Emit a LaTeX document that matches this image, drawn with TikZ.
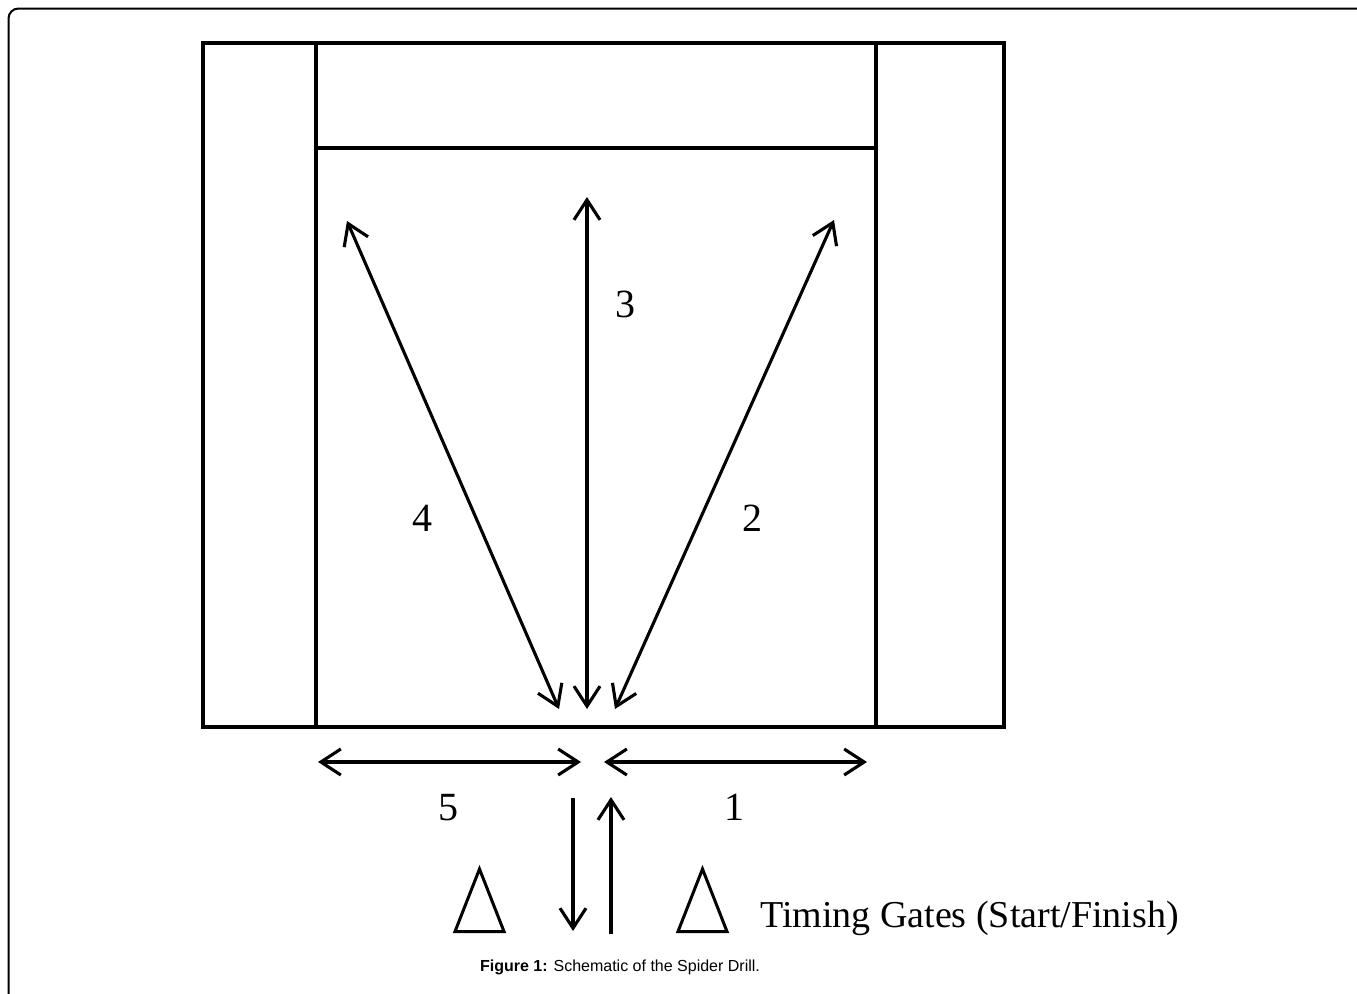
\documentclass[tikz,border=0pt]{standalone}
\usepackage{fontspec}
\setmainfont{Liberation Serif}
\newfontfamily\arialfont{Liberation Sans}
\usetikzlibrary{arrows.meta}
\begin{document}
\begin{tikzpicture}[x=1pt,y=-1pt,
  boxline/.style={line width=3.4pt, line cap=rect},
  dblarrow/.style={line width=3.1pt, {Straight Barb[length=20pt,width=26pt]}-{Straight Barb[length=20pt,width=26pt]}},
  onearrow/.style={line width=3.1pt, -{Straight Barb[length=20pt,width=26pt]}},
  gate/.style={line width=3pt, line join=miter},
  numlabel/.style={inner sep=0pt, font=\fontsize{40}{42}\selectfont},
  frameline/.style={line width=2pt, rounded corners=10pt}]
\useasboundingbox (0,0) rectangle (1357,993);
% page frame
\draw[frameline] (8.5,1040) -- (8.5,8.5) -- (1400,8.5);
% field
\coordinate (TL) at (203,43);
\coordinate (BR) at (1004,727);
\draw[boxline] (TL) rectangle (BR);
\coordinate (LT) at (316,43);
\coordinate (LB) at (316,727);
\coordinate (RT) at (876,43);
\coordinate (RB) at (876,727);
\coordinate (HL) at (316,148);
\coordinate (HR) at (876,148);
\draw[boxline] (LT) -- (LB);
\draw[boxline] (RT) -- (RB);
\draw[boxline] (HL) -- (HR);
% arrow end points
\coordinate (a3t) at (587,197);
\coordinate (a3b) at (587,709);
\coordinate (a4t) at (347,221);
\coordinate (a4b) at (559,709);
\coordinate (a2t) at (834,220);
\coordinate (a2b) at (615,709);
\coordinate (a5l) at (318,762);
\coordinate (a5r) at (581,762);
\coordinate (a1l) at (604,762);
\coordinate (a1r) at (867,762);
\coordinate (dnt) at (573,798);
\coordinate (dnb) at (573,931);
\coordinate (upb) at (611,934);
\coordinate (upt) at (611,797);
\draw[dblarrow] (a3t) -- (a3b);
\draw[dblarrow] (a4t) -- (a4b);
\draw[dblarrow] (a2t) -- (a2b);
\draw[dblarrow] (a5l) -- (a5r);
\draw[dblarrow] (a1l) -- (a1r);
\draw[onearrow] (dnt) -- (dnb);
\draw[onearrow] (upb) -- (upt);
% labels
\node[numlabel] (n3) at (625,304) {3};
\node[numlabel] (n4) at (422,518) {4};
\node[numlabel] (n2) at (752,518) {2};
\node[numlabel] (n5) at (448,808) {5};
\node[numlabel] (n1) at (734,807) {1};
% timing gates
\coordinate (g1a) at (479.5,869);
\coordinate (g1l) at (455,931.5);
\coordinate (g1r) at (504,931.5);
\coordinate (g2a) at (702.5,869);
\coordinate (g2l) at (678,931.5);
\coordinate (g2r) at (727,931.5);
\draw[gate] (g1a) -- (g1l) -- (g1r) -- cycle;
\draw[gate] (g2a) -- (g2l) -- (g2r) -- cycle;
\node[inner sep=0pt, anchor=base west, font=\fontsize{38}{40}\selectfont] (tg) at (760,927) {Timing Gates (Start/Finish)};
% caption
\node[inner sep=0pt, anchor=base, font=\arialfont\fontsize{16}{19}\selectfont] (cap) at (620,971) {\textbf{Figure 1:} Schematic of the Spider Drill.};
\end{tikzpicture}
\end{document}
